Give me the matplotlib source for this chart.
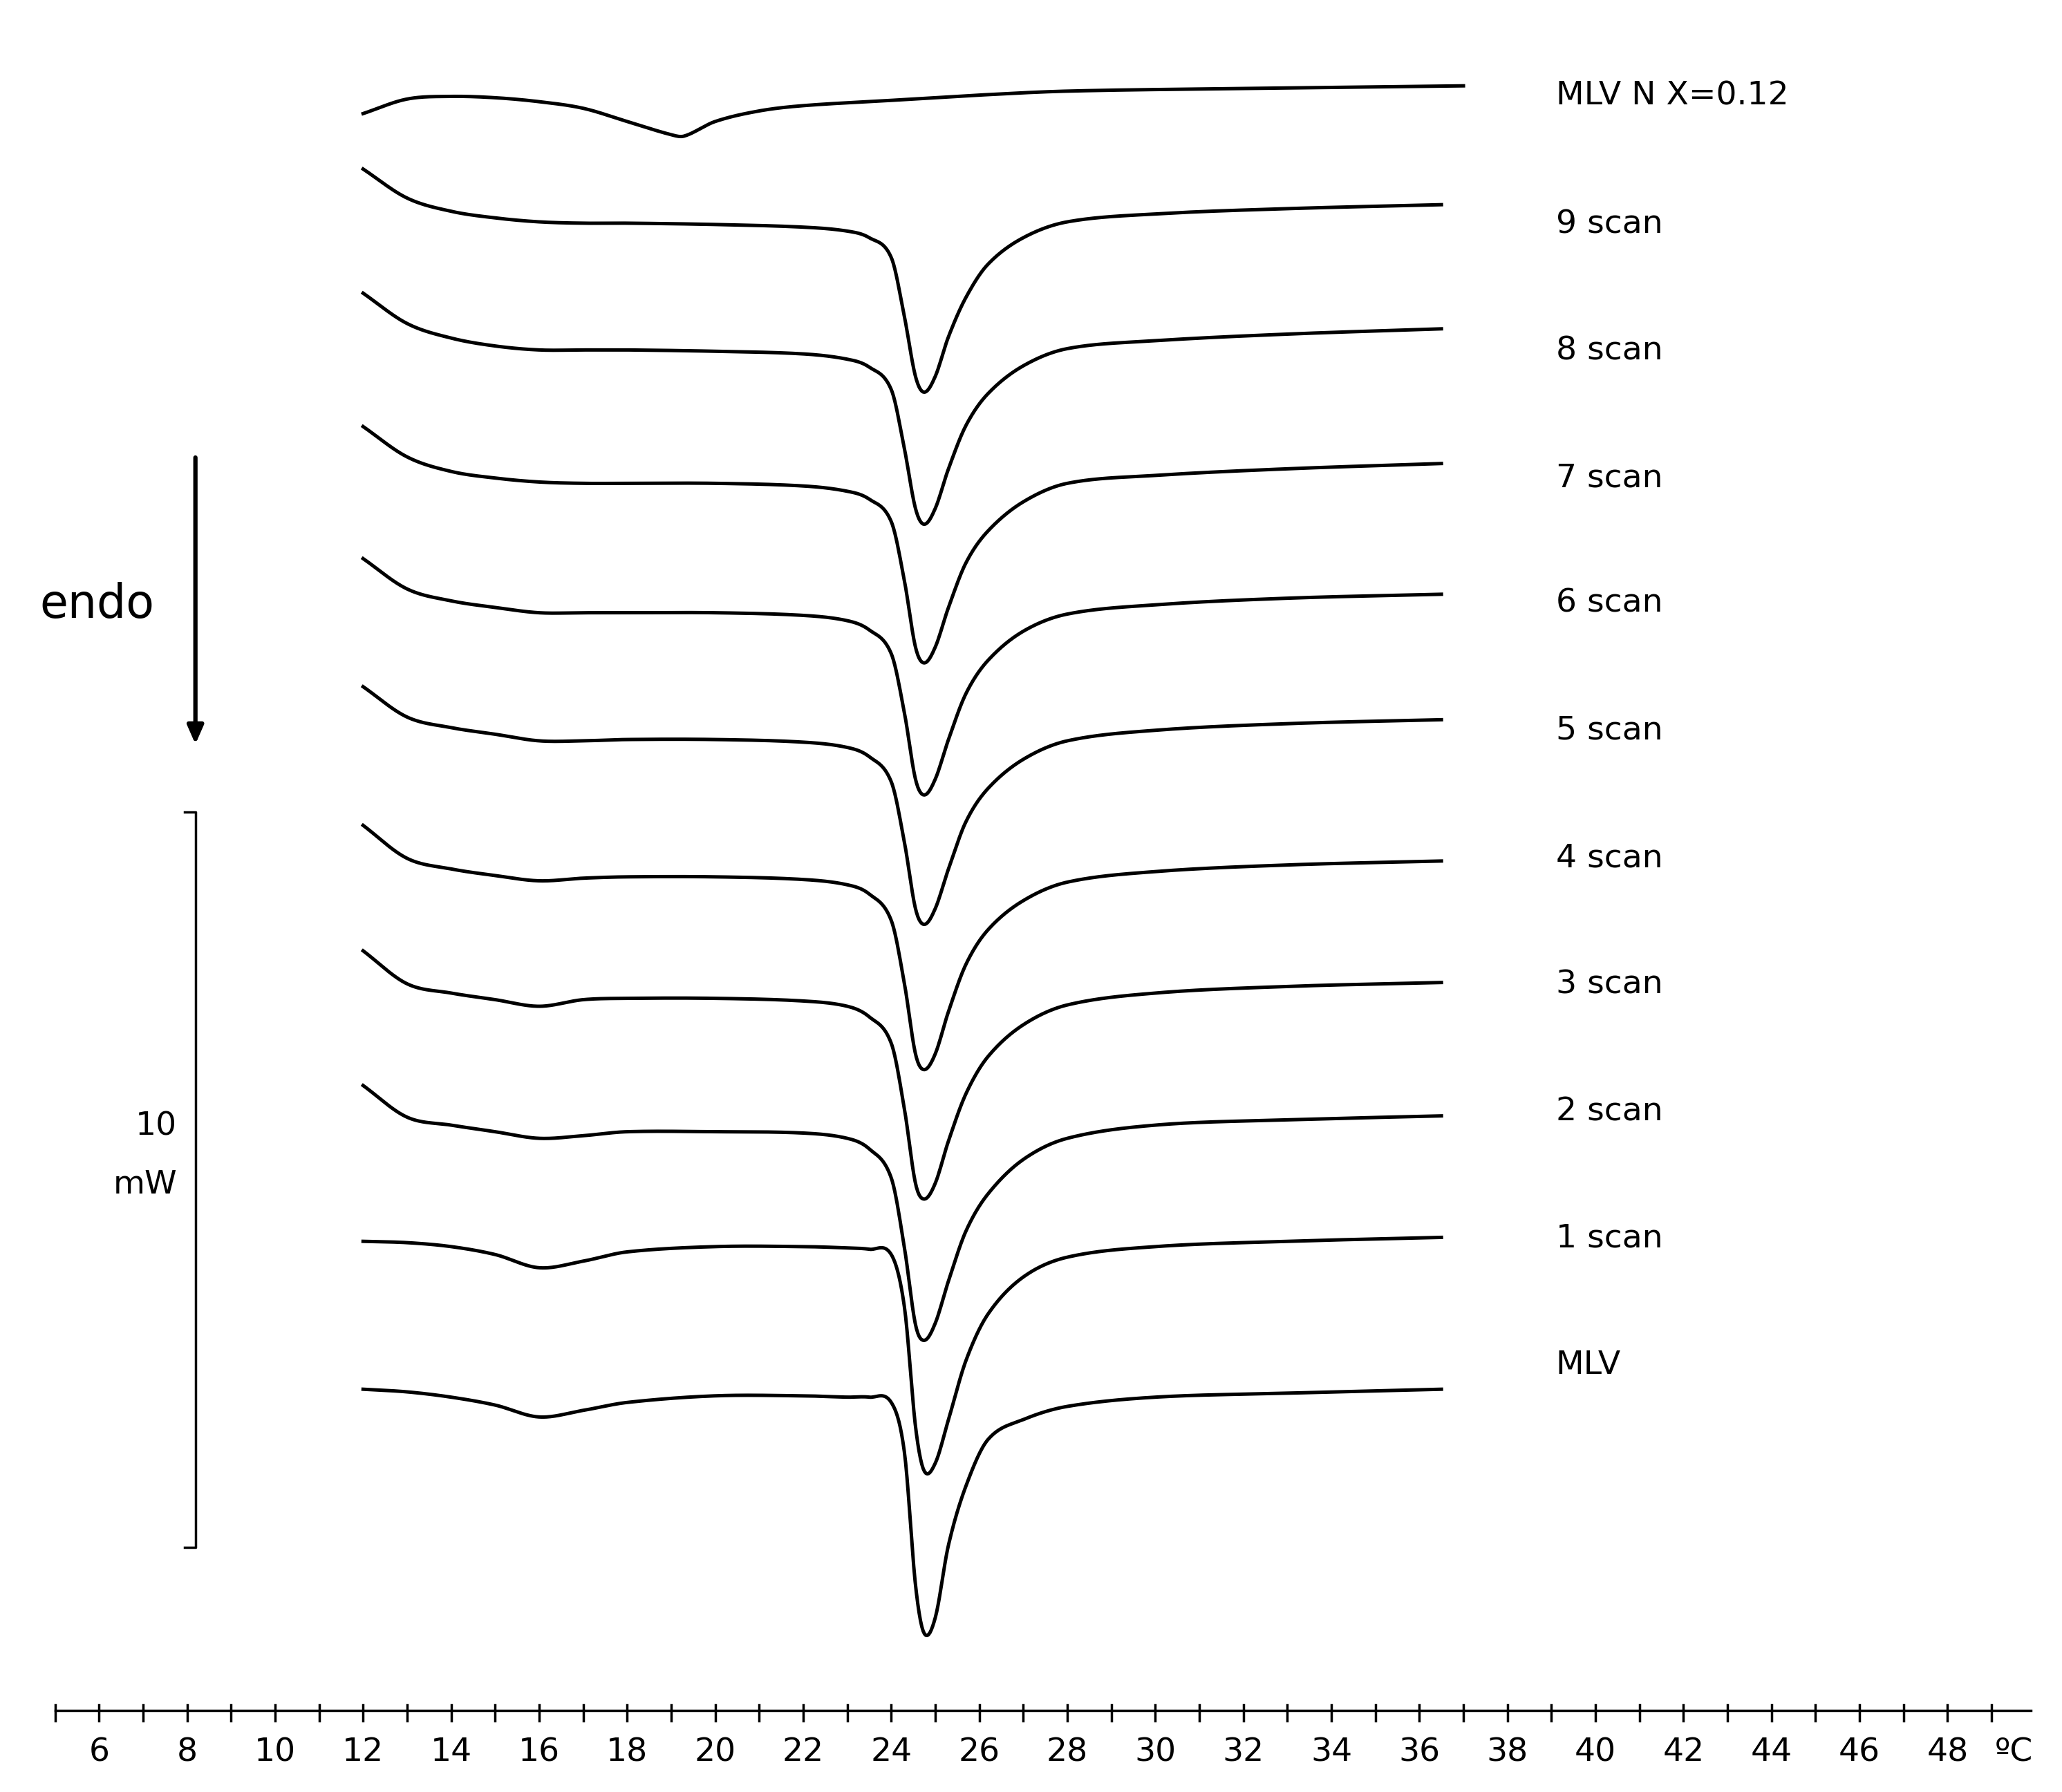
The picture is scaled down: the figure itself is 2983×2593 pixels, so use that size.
import numpy as np
import matplotlib
matplotlib.use("Agg")
import matplotlib.pyplot as plt

# Temperature grid (°C) for the scan curves
X = [12, 13, 14, 15, 16, 17, 18, 20, 22, 23, 23.5, 24, 24.3, 24.55, 24.75, 25.0, 25.3, 25.7, 26.2, 27, 28, 30, 33, 36.5]
# Vertical positions of traces (plot units, downward)
scan9 = [128, 150, 160, 165, 168, 169, 169, 170, 172, 175, 180, 195, 240, 285, 297, 285, 255, 225, 200, 180, 168, 162, 158, 155]
scan8 = [222, 245, 256, 262, 265, 265, 265, 266, 268, 272, 278, 295, 340, 385, 397, 385, 355, 322, 298, 277, 264, 258, 253, 249]
scan7 = [323, 346, 357, 362, 365, 366, 366, 366, 368, 372, 378, 395, 440, 490, 502, 490, 460, 426, 402, 380, 366, 360, 355, 351]
scan6 = [423, 446, 455, 460, 464, 464, 464, 464, 466, 470, 477, 495, 540, 590, 602, 590, 560, 525, 500, 478, 465, 458, 453, 450]
scan5 = [520, 543, 551, 556, 561, 561, 560, 560, 562, 566, 573, 592, 638, 688, 700, 688, 658, 622, 597, 575, 561, 553, 548, 545]
scan4 = [625, 650, 658, 663, 667, 665, 664, 664, 666, 670, 677, 697, 745, 798, 810, 798, 766, 730, 704, 682, 668, 660, 655, 652]
scan3 = [720, 745, 752, 757, 762, 757, 756, 756, 758, 762, 770, 790, 840, 896, 908, 896, 864, 828, 800, 776, 761, 752, 747, 744]
scan2 = [822, 846, 852, 857, 862, 860, 857, 857, 858, 862, 870, 892, 945, 1003, 1015, 1002, 970, 932, 904, 878, 862, 852, 848, 845]
scan1 = [940, 941, 944, 950, 960, 955, 948, 944, 944, 945, 946, 950, 990, 1080, 1114, 1108, 1075, 1030, 995, 967, 952, 944, 940, 937]
mlv = [1052, 1054, 1058, 1064, 1073, 1068, 1062, 1057, 1057, 1058, 1058, 1062, 1100, 1200, 1237, 1225, 1170, 1125, 1090, 1075, 1065, 1058, 1055, 1052]

XN = [12, 13, 14, 15, 16, 17, 18, 19, 19.3, 20, 21, 22, 24, 26, 28, 32, 37]
mlvN = [86, 75, 73, 74, 77, 82, 92, 102, 103, 92, 84, 80, 76, 72, 69, 67, 65]

labels = ["MLV N X=0.12", "9 scan", "8 scan", "7 scan", "6 scan", "5 scan",
          "4 scan", "3 scan", "2 scan", "1 scan", "MLV"]
label_y = [73, 170, 266, 362, 457, 553, 650, 746, 842, 938, 1034]
ticks = list(range(6, 50, 2))


def smooth(x, y, n=800):
    x = np.asarray(x, float); y = np.asarray(y, float)
    h = np.diff(x)
    m = np.zeros_like(y)
    m[1:-1] = (y[2:] - y[:-2]) / (x[2:] - x[:-2])
    m[0] = (y[1] - y[0]) / h[0]; m[-1] = (y[-1] - y[-2]) / h[-1]
    xs = np.linspace(x[0], x[-1], n)
    idx = np.clip(np.searchsorted(x, xs) - 1, 0, len(h) - 1)
    t = (xs - x[idx]) / h[idx]
    h00 = 2*t**3 - 3*t**2 + 1; h10 = t**3 - 2*t**2 + t
    h01 = -2*t**3 + 3*t**2; h11 = t**3 - t**2
    ys = h00*y[idx] + h10*h[idx]*m[idx] + h01*y[idx+1] + h11*h[idx]*m[idx+1]
    return xs, ys


fig = plt.figure(figsize=(29.83, 25.93), dpi=100)
ax = fig.add_axes([0, 0, 1, 1])
ax.set_xlim(3.75, 50.6)
ax.set_ylim(1357, 0)
ax.axis("off")

lw = 3.6
xs, ys = smooth(XN, mlvN)
ax.plot(xs, ys, color="black", lw=lw)
for s in [scan9, scan8, scan7, scan6, scan5, scan4, scan3, scan2, scan1, mlv]:
    xs, ys = smooth(X, s)
    ax.plot(xs, ys, color="black", lw=lw)

fs = 34
for lab, yy in zip(labels, label_y):
    ax.text(39.1, yy, lab, fontsize=fs, va="center", ha="left")

# bottom axis
ax.plot([5.0, 49.9], [1295, 1295], color="black", lw=2.5)
for t in range(5, 50):
    ax.plot([t, t], [1291, 1303], color="black", lw=2.5)
for t in ticks:
    ax.text(t, 1327, str(t), fontsize=fs, ha="center", va="center")
ax.text(49.5, 1327, "ºC", fontsize=fs, ha="center", va="center")

# endo arrow
ax.annotate("", xy=(8.19, 565), xytext=(8.19, 345),
            arrowprops=dict(arrowstyle="-|>,head_length=1.6,head_width=0.7",
                            color="black", lw=4.5))
ax.text(5.95, 458, "endo", fontsize=48, ha="center", va="center")

# scale bar
ax.plot([7.95, 8.19, 8.19, 7.95], [615, 615, 1172, 1172], color="black", lw=2.5)
ax.text(7.3, 853, "10", fontsize=34, ha="center", va="center")
ax.text(7.05, 897, "mW", fontsize=34, ha="center", va="center")

fig.savefig("out.png", dpi=100)
